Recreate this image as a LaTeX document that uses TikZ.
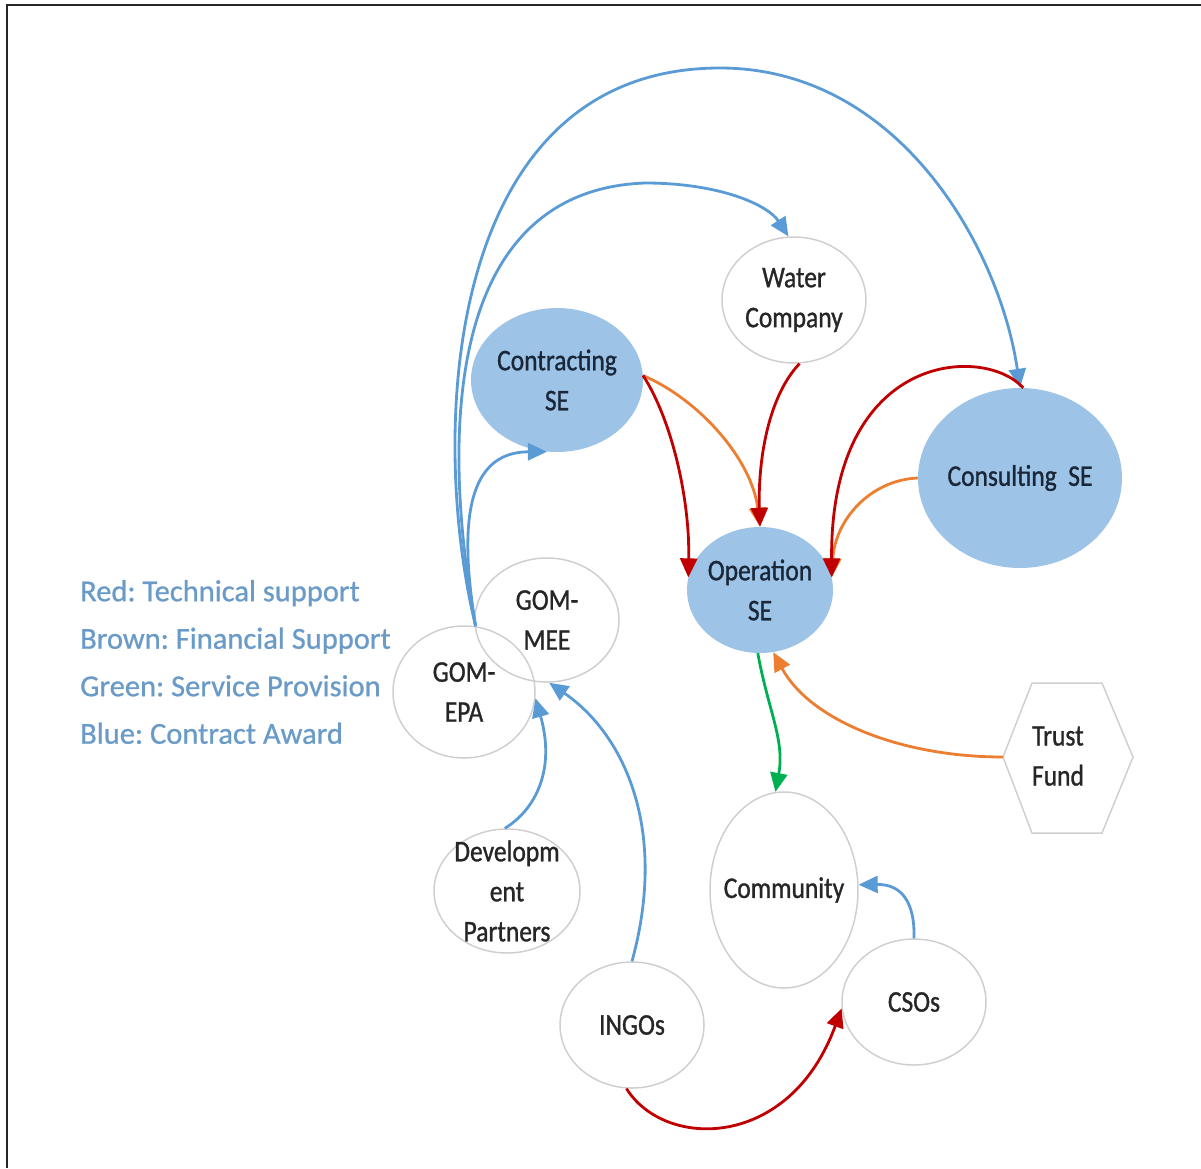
\documentclass[tikz,border=0pt]{standalone}
\usepackage{fontspec}
\setmainfont{Carlito}[FakeBold=0.8]
\newfontfamily\nodefont{Carlito}[FakeStretch=0.85,FakeBold=1.0]
\usetikzlibrary{shapes.geometric,arrows.meta}
\definecolor{seblue}{HTML}{9DC3E6}
\definecolor{ringgray}{HTML}{CFCFCF}
\definecolor{awardblue}{HTML}{5B9BD5}
\definecolor{techred}{HTML}{C00000}
\definecolor{finorange}{HTML}{ED7D31}
\definecolor{servgreen}{HTML}{00B050}
\definecolor{legendblue}{HTML}{6A9BC8}
\definecolor{inkdark}{HTML}{262626}
\definecolor{inknavy}{HTML}{1A2738}
\begin{document}
\frenchspacing
\begin{tikzpicture}[x=1pt,y=-1pt,
  actor/.style={ellipse, draw=ringgray, line width=1.5pt, inner sep=0pt},
  sebody/.style={ellipse, fill=seblue, inner sep=0pt},
  ntext/.style={font=\nodefont\fontsize{30}{40}\selectfont, text=inkdark, align=center, inner sep=0pt},
  setext/.style={ntext, text=inknavy},
  link/.style={line width=2.8pt, -{Triangle[length=19pt,width=17pt]}},
  award/.style={link, awardblue},
  tech/.style={link, techred},
  fin/.style={link, finorange},
  serv/.style={link, servgreen}]
\useasboundingbox (0,0) rectangle (1201,1168);
% frame (top and left edges)
\draw[line width=2.5pt, black!85] (7,1168) -- (7,5) -- (1201,5);

% social enterprises (filled)
\node[sebody, minimum width=172pt, minimum height=144pt, label={[setext]center:Contracting\\SE}] (cse) at (557,380) {};
\node[sebody, minimum width=204pt, minimum height=180pt, label={[setext]center:Consulting\ \ SE}] (con) at (1020,478) {};
\node[sebody, minimum width=146pt, minimum height=126pt, label={[setext]center:Operation\\SE}] (ope) at (760,590) {};

% other actors
\node[actor, minimum width=144pt, minimum height=126pt, label={[ntext]center:Water\\Company}] (wat) at (794,300) {};
\node[actor, minimum width=144pt, minimum height=124pt, label={[ntext]center:GOM-\\MEE}] (mee) at (547,620) {};
\node[actor, minimum width=142pt, minimum height=132pt, label={[ntext]center:GOM-\\EPA}] (epa) at (464,692) {};
\node[actor, minimum width=146pt, minimum height=124pt, label={[ntext]center:Developm\\ent\\Partners}] (dev) at (507,891) {};
\node[actor, minimum width=148pt, minimum height=196pt, label={[ntext]center:Community}] (com) at (784,890) {};
\node[actor, minimum width=144pt, minimum height=126pt, label={[ntext]center:INGOs}] (ing) at (632,1025) {};
\node[actor, minimum width=144pt, minimum height=126pt, label={[ntext]center:CSOs}] (cso) at (914,1002) {};

% trust fund hexagon
\draw[ringgray, line width=1.5pt] (1003,757) coordinate (tfw) -- (1032,683) -- (1102,683) -- (1133,757) -- (1102,833) -- (1032,833) -- cycle;
\node[ntext] (tf) at (1058,756) {Trust\\Fund};

% legend
\node[anchor=west, align=left, inner sep=0pt, text=legendblue, font=\fontsize{30.5}{47.5}\selectfont] (legend) at (80,662)
  {Red: Technical support\\Brown: Financial Support\\Green: Service Provision\\Blue: Contract Award};

% contract awards from GOM-EPA
\draw[award] (epa.80) .. controls (428,430) and (445,68) .. (720,68)
  .. controls (900,68) and (1000,250) .. (con.north);
\draw[award] (epa.80) .. controls (438,420) and (452,190) .. (645,183)
  .. controls (720,183) and (768,205) .. (wat.95);
\draw[award] (epa.80) .. controls (458,520) and (468,452) .. (cse.-98);
\draw[award] (dev.92) .. controls (535,810) and (556,770) .. (epa.-5);
\draw[award] (ing.north) .. controls (668,830) and (625,735) .. (mee.-88);
\draw[award] (cso.north) .. controls (915,900) and (900,884) .. (com.4);

% financial support
\draw[fin] (cse.3) .. controls (700,400) and (752,460) .. (ope.north);
\draw[fin] (con.west) .. controls (870,480) and (835,520) .. (ope.10);
\draw[fin] (tfw) .. controls (900,757) and (810,720) .. (ope.-78);

% technical support
\draw[tech] (cse.3) .. controls (672,420) and (690,500) .. (ope.170);
\draw[tech] (wat.-85) .. controls (765,400) and (758,470) .. (ope.north);
\draw[tech] (con.88) .. controls (985,345) and (830,350) .. (ope.10);
\draw[tech] (ing.-95) .. controls (665,1150) and (790,1150) .. (cso.-175);

% service provision
\draw[serv] (ope.-92) .. controls (768,710) and (785,740) .. (com.95);
\end{tikzpicture}
\end{document}
